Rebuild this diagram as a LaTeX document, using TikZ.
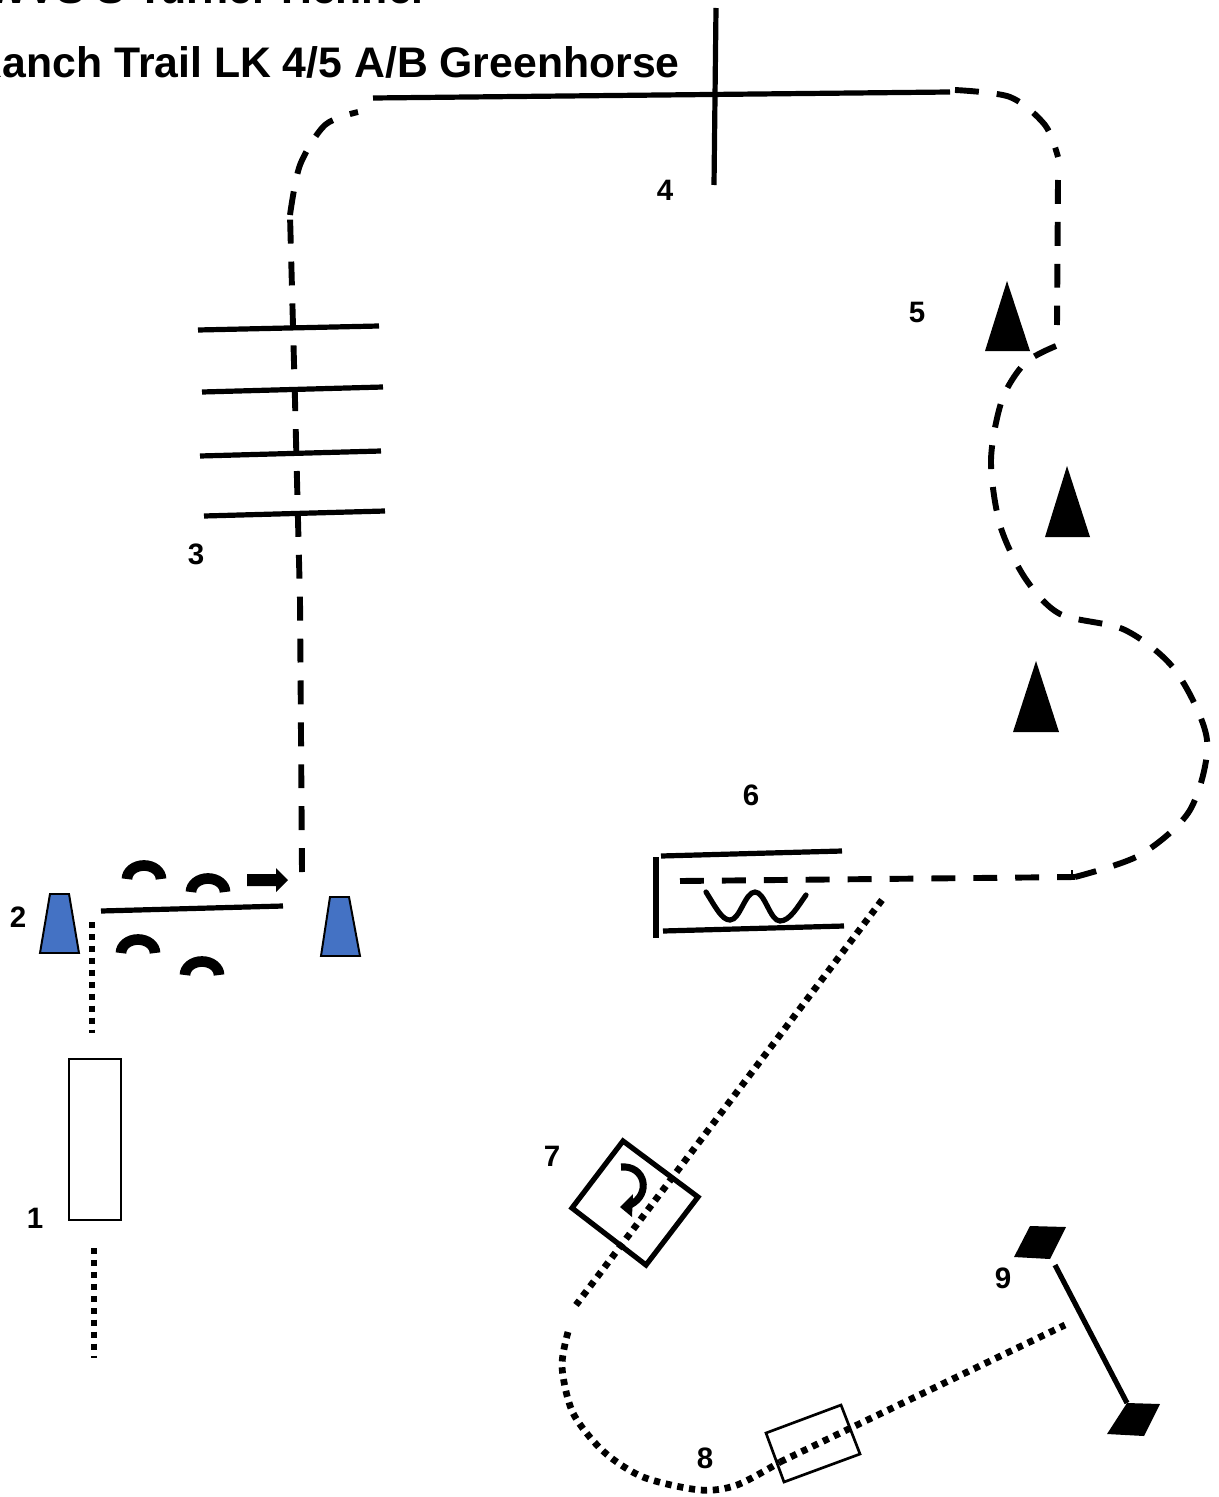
\documentclass[tikz,border=0pt]{standalone}
\usepackage{fontspec}
\setmainfont{Liberation Sans}
\definecolor{coneblue}{HTML}{4472C4}

\begin{document}
\begin{tikzpicture}[
  x=0.025cm, y=-0.025cm,
  rail/.style={black, line width=3.7pt},
  thinbox/.style={black, line width=1.9pt},
  route/.style={black, line width=4.2pt, dash pattern=on 17pt off 12.8pt},
  walkpath/.style={black, line width=4.8pt, dash pattern=on 4.4pt off 4.1pt},
  jump/.style={black, line width=7.6pt},
  cone/.style={fill=coneblue, draw=black, line width=1.4pt, line join=miter},
  marker/.style={fill=black},
  title/.style={font=\fontsize{30.4}{35}\selectfont\bfseries, anchor=base east, inner sep=0pt},
  num/.style={font=\fontsize{21}{25}\selectfont\bfseries, inner sep=0pt},
]
\useasboundingbox (0,0) rectangle (1218,1497);

% ===== Title lines =====
\node[title] (heading) at (424,4) {WVS S Turner Hennel};
\node[title] (subheading) at (680,78) {Ranch Trail LK 4/5 A/B Greenhorse};

% ===== Start: obstacle 1 and gate 2 =====
\draw[thinbox] (69,1059) rectangle (121,1220);
\draw[walkpath] (92,922) -- (92,1033);
\draw[walkpath] (94,1248) -- (94,1358);

\draw[cone] (50,894) -- (69,894) -- (79,953) -- (40,953) -- cycle;
\draw[cone] (330,897) -- (349,897) -- (360,956) -- (321,956) -- cycle;
\draw[rail] (101,911) -- (283,906);

% Half rings around the gate
\draw[jump] (127,879) arc[start angle=180, end angle=360, x radius=17, y radius=13.5];
\draw[jump] (191,892) arc[start angle=180, end angle=360, x radius=17, y radius=13.5];
\draw[jump] (121,953) arc[start angle=180, end angle=360, x radius=17, y radius=13.5];
\draw[jump] (185,975) arc[start angle=180, end angle=360, x radius=17, y radius=13.5];

% Direction arrow
\fill[marker] (247,874) -- (276,874) -- (276,868) -- (288,880) -- (276,892) -- (276,886) -- (247,886) -- cycle;

% ===== Ground poles 3 and first leg =====
\draw[route] (302,872) -- (300,600) -- (295,400) -- (290,215);
\draw[route] plot[smooth] coordinates {(290,215) (300,165) (325,125) (358,112)};
\draw[rail] (198,330) -- (379,326);
\draw[rail] (202,392) -- (383,387);
\draw[rail] (200,456) -- (381,451);
\draw[rail] (204,516) -- (385,511);

% ===== Top line and cross 4 =====
\draw[rail] (373,98) -- (950,92);
\draw[rail] (716,8) -- (714,185);

% ===== Right hand loop with markers 5 =====
\draw[route] plot[smooth] coordinates {(955,90) (1010,97) (1045,125) (1058,157)};
\draw[route] (1058,180) -- (1057,325);
\draw[route] plot[smooth] coordinates {(1056,346) (1025,363) (1002,400) (991,460) (1000,525) (1025,578) (1060,614) (1125,630) (1175,670) (1207,740) (1190,810) (1140,855) (1075,877)};
\draw[route] (680,881) -- (1075,877);
\draw[black, line width=1.5pt] (1072,870) -- (1072,877);

\fill[marker] (1007,281) -- (1030,351) -- (985,351) -- cycle;
\fill[marker] (1067,466) -- (1090,537) -- (1045,537) -- cycle;
\fill[marker] (1036,661) -- (1059,732) -- (1013,732) -- cycle;

% ===== Obstacle 6 =====
\draw[rail] (661,856) -- (842,851);
\draw[rail] (663,931) -- (844,926);
\draw[rail] (656,857) -- (656,938);
\draw[rail, line cap=round] (706,892) .. controls (716,908) and (722,920) .. (730,920)
  .. controls (740,920) and (745,892) .. (755,892)
  .. controls (765,892) and (770,921) .. (780,921)
  .. controls (790,921) and (798,906) .. (806,895);

% ===== Box 7 and its turn =====
\draw[walkpath] (882,900) -- (576,1305);
\draw[rail, line join=miter] (623,1141) -- (698,1197) -- (646,1265) -- (572,1208) -- cycle;
\draw[black, line width=5pt] (621,1167) .. controls (645,1165) and (652,1194) .. (630,1205);
\fill[marker] (620,1207) -- (633,1194) -- (632,1217) -- cycle;

% ===== Curve through box 8 to the end =====
\draw[walkpath] plot[smooth] coordinates {(568,1332) (562,1367) (573,1413) (603,1451) (643,1477) (700,1490) (737,1485) (780,1462)};
\draw[walkpath] (780,1462) -- (1065,1325);
\draw[thinbox] (766,1433) -- (841,1405) -- (860,1454) -- (784,1482) -- cycle;

% ===== Obstacle 9 =====
\draw[rail] (1055,1265) -- (1127,1403);
\fill[marker] (1030,1226) -- (1066,1227) -- (1050,1259) -- (1014,1257) -- cycle;
\fill[marker] (1127,1403) -- (1160,1404) -- (1144,1436) -- (1107,1434) -- cycle;

% ===== Numbers =====
\node[num] (n1) at (35,1218) {1};
\node[num] (n2) at (18,917) {2};
\node[num] (n3) at (196,554) {3};
\node[num] (n4) at (665,190) {4};
\node[num] (n5) at (917,312) {5};
\node[num] (n6) at (751,795) {6};
\node[num] (n7) at (552,1156) {7};
\node[num] (n8) at (705,1458) {8};
\node[num] (n9) at (1003,1278) {9};

\end{tikzpicture}
\end{document}
